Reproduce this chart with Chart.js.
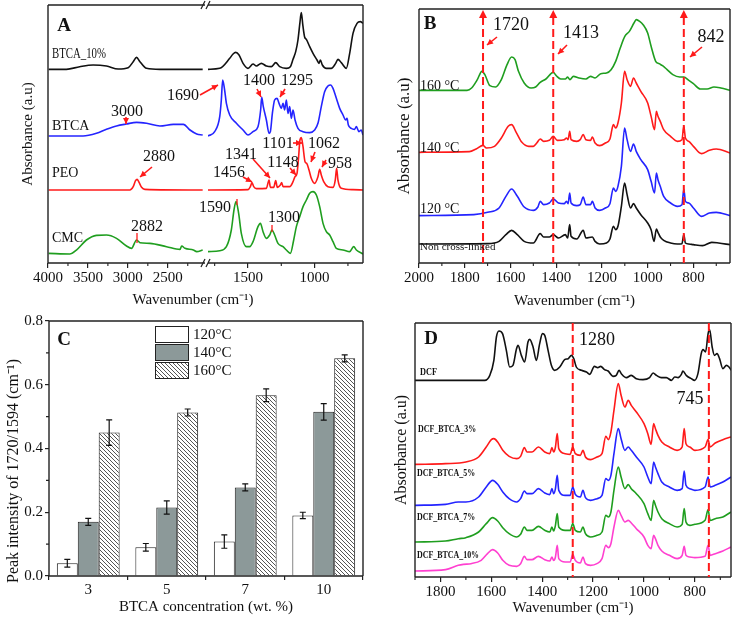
<!DOCTYPE html>
<html>
<head>
<meta charset="utf-8">
<script src="https://cdn.jsdelivr.net/npm/chart.js@4.4.1/dist/chart.umd.min.js"></script>
<style>
  body { margin: 0; background: #fff; width: 734px; height: 617px; position: relative; overflow: hidden; }
  canvas { position: absolute; }
</style>
</head>
<body>
<canvas id="cA1" width="367" height="310" style="left:0;top:0"></canvas>
<canvas id="cA2" width="367" height="310" style="left:0;top:0"></canvas>
<canvas id="cB" width="364" height="310" style="left:370px;top:0"></canvas>
<canvas id="cC" width="367" height="307" style="left:0;top:310px"></canvas>
<canvas id="cD" width="364" height="307" style="left:370px;top:310px"></canvas>
<script>
// ---- panel A (broken axis: 4000-2034 | 1800-637) ----
var A_bt10_L = [[3992,581],[3770,581],[3603,589],[3435,594],[3268,591],[3121,582],[2996,586],[2933,604],[2891,617],[2849,604],[2766,584],[2598,581],[2063,581]];
var A_bt10_R = [[1800,581],[1712,584],[1637,614],[1612,627],[1592,632],[1567,624],[1537,599],[1500,584],[1462,597],[1437,591],[1400,599],[1362,591],[1325,589],[1292,601],[1262,589],[1212,584],[1182,589],[1162,611],[1142,634],[1125,669],[1110,722],[1100,751],[1088,712],[1075,678],[1062,671],[1037,649],[1012,629],[982,609],[967,599],[957,609],[942,594],[912,584],[875,584],[842,599],[825,611],[800,601],[762,584],[737,629],[712,689],[682,719],[657,724],[637,719]];
var A_btca_L = [[3992,381],[3561,381],[3393,389],[3268,401],[3142,411],[3017,417],[2891,422],[2766,419],[2598,411],[2431,416],[2305,416],[2222,399],[2138,387],[2063,384]];
var A_btca_R = [[1800,381],[1750,394],[1712,439],[1700,489],[1690,549],[1677,524],[1662,479],[1637,444],[1587,419],[1537,399],[1500,384],[1462,394],[1425,409],[1405,459],[1397,497],[1385,469],[1362,429],[1342,389],[1332,394],[1317,449],[1300,489],[1282,494],[1267,479],[1250,464],[1237,479],[1225,459],[1212,489],[1200,449],[1187,469],[1175,434],[1162,459],[1147,429],[1125,404],[1087,394],[1037,391],[1000,399],[975,419],[950,469],[925,514],[900,531],[880,534],[862,524],[837,494],[812,464],[787,444],[767,429],[757,434],[747,414],[725,404],[700,401],[687,409],[667,394],[650,399],[637,384]];
var A_peo_L = [[3992,219],[2975,219],[2933,229],[2904,247],[2883,251],[2858,241],[2828,227],[2787,221],[2063,219]];
var A_peo_R = [[1800,219],[1500,220],[1482,229],[1470,241],[1457,229],[1437,223],[1362,224],[1342,249],[1332,227],[1307,227],[1292,247],[1280,227],[1257,234],[1247,241],[1237,229],[1187,229],[1162,244],[1147,259],[1132,269],[1120,319],[1110,369],[1100,376],[1088,352],[1072,304],[1060,299],[1042,279],[1025,254],[1000,239],[975,259],[962,281],[950,264],[932,244],[900,229],[862,227],[845,249],[835,284],[825,249],[800,224],[712,220],[637,219]];
var A_cmc_L = [[3992,29],[3728,27],[3644,39],[3519,69],[3393,83],[3268,84],[3142,74],[3017,51],[2954,44],[2891,69],[2849,61],[2724,59],[2515,49],[2347,41],[2326,51],[2285,44],[2180,39],[2138,34],[2063,39]];
var A_cmc_R = [[1800,34],[1712,37],[1662,49],[1625,99],[1605,159],[1590,184],[1570,149],[1550,89],[1512,49],[1487,49],[1462,64],[1425,109],[1407,119],[1387,94],[1362,74],[1337,84],[1320,99],[1300,84],[1275,59],[1237,49],[1212,39],[1182,29],[1157,69],[1137,109],[1112,139],[1087,169],[1062,189],[1037,209],[1012,214],[987,204],[962,169],[937,119],[912,94],[887,84],[862,64],[837,44],[787,39],[737,34],[707,49],[687,39],[637,27]];
var A_ticksL = [4000, 3500, 3000, 2500];
var A_minorL = [3750, 3250, 2750, 2250];
var A_ticksR = [1500, 1000];
var A_minorR = [1750, 1250, 750];

// ---- panel B ----
var B_160 = [[2000,518],[1790,518],[1770,525],[1745,550],[1725,575],[1712,565],[1690,532],[1665,528],[1640,550],[1615,595],[1595,618],[1580,610],[1565,575],[1540,540],[1510,525],[1490,528],[1470,542],[1445,552],[1413,572],[1400,562],[1380,552],[1360,552],[1350,558],[1340,550],[1325,560],[1300,555],[1270,552],[1250,560],[1230,555],[1205,568],[1180,570],[1160,580],[1140,605],[1120,645],[1100,680],[1080,695],[1060,720],[1050,730],[1035,725],[1020,715],[1000,690],[985,650],[965,605],[950,598],[935,592],[915,580],[890,565],[860,558],[842,558],[820,548],[800,538],[770,522],[740,522],[710,528],[680,525],[640,518]];
var B_140 = [[2000,332],[1780,334],[1750,342],[1720,353],[1705,345],[1670,350],[1640,375],[1610,410],[1595,415],[1575,392],[1550,362],[1520,350],[1500,350],[1485,360],[1470,372],[1455,365],[1430,368],[1413,380],[1395,368],[1365,370],[1355,375],[1348,370],[1341,395],[1335,370],[1310,365],[1295,370],[1282,385],[1270,370],[1250,368],[1242,378],[1230,360],[1210,352],[1185,360],[1165,372],[1150,415],[1140,405],[1130,420],[1115,480],[1101,575],[1090,550],[1075,530],[1062,555],[1050,540],[1030,515],[1000,480],[985,440],[970,400],[962,455],[955,440],[945,425],[930,400],[900,380],[870,365],[850,370],[842,410],[835,375],[820,365],[800,350],[765,328],[730,338],[700,342],[640,330]];
var B_120 = [[2000,142],[1760,145],[1700,152],[1650,165],[1620,200],[1595,222],[1570,200],[1540,168],[1500,158],[1480,168],[1470,185],[1455,175],[1430,180],[1413,192],[1390,180],[1365,178],[1355,185],[1348,178],[1341,210],[1335,180],[1310,172],[1295,175],[1282,198],[1270,175],[1250,175],[1242,185],[1230,165],[1210,158],[1185,165],[1165,178],[1150,225],[1140,215],[1130,230],[1115,290],[1101,405],[1090,370],[1075,335],[1062,357],[1050,335],[1030,310],[1000,280],[985,245],[970,210],[962,270],[955,250],[945,230],[930,200],[900,180],[870,170],[850,175],[842,222],[835,185],[820,180],[800,165],[765,140],[730,150],[700,152],[640,142]];
var B_nc = [[2000,57],[1700,58],[1650,65],[1620,85],[1595,98],[1570,85],[1540,65],[1500,60],[1470,88],[1455,78],[1430,78],[1413,85],[1390,75],[1360,85],[1350,75],[1341,115],[1335,80],[1310,72],[1282,98],[1270,75],[1242,78],[1230,65],[1210,57],[1180,60],[1165,72],[1150,110],[1140,100],[1130,110],[1115,170],[1101,240],[1090,205],[1075,165],[1062,178],[1050,165],[1030,145],[1000,120],[985,100],[972,65],[962,102],[955,92],[945,78],[930,68],[900,60],[870,57],[850,58],[842,85],[835,60],[820,57],[800,55],[760,52],[720,62],[690,60],[640,55]];
var B_ticks = [2000, 1800, 1600, 1400, 1200, 1000, 800];
var B_minor = [1900, 1700, 1500, 1300, 1100, 900, 700];
var B_marks = [1720, 1413, 842];

// ---- panel C ----
var concLabels = ['3', '5', '7', '10'];
var tempLabels = ['120°C', '140°C', '160°C'];
var v120 = [0.040, 0.090, 0.108, 0.190];
var e120 = [0.012, 0.012, 0.021, 0.010];
var v140 = [0.170, 0.215, 0.278, 0.515];
var e140 = [0.011, 0.021, 0.011, 0.026];
var v160 = [0.450, 0.513, 0.567, 0.683];
var e160 = [0.040, 0.011, 0.020, 0.011];
var C_ticks = [0, 0.2, 0.4, 0.6, 0.8];
var C_minor = [0.1, 0.3, 0.5, 0.7];

// ---- panel D ----
var D_dcf = [[1900,590],[1626,590],[1606,605],[1590,650],[1580,720],[1570,738],[1556,730],[1541,680],[1528,630],[1515,635],[1501,685],[1495,695],[1482,665],[1469,645],[1456,705],[1449,713],[1436,690],[1423,650],[1410,700],[1399,730],[1390,725],[1377,680],[1364,635],[1351,620],[1331,630],[1312,652],[1298,655],[1285,665],[1276,655],[1266,630],[1246,620],[1226,615],[1213,608],[1195,632],[1182,628],[1170,632],[1155,622],[1141,618],[1122,602],[1109,605],[1098,620],[1089,610],[1069,598],[1050,605],[1030,595],[1004,592],[978,598],[964,612],[951,605],[932,598],[912,598],[892,590],[879,600],[866,598],[853,608],[847,618],[834,605],[814,595],[801,590],[788,610],[775,670],[768,682],[758,675],[748,730],[742,742],[732,690],[723,665],[713,670],[703,655],[690,625],[676,635],[666,630],[657,620]];
var D_3 = [[1900,338],[1780,340],[1700,345],[1650,360],[1620,390],[1600,412],[1590,415],[1575,405],[1555,380],[1530,362],[1500,355],[1485,362],[1470,388],[1460,375],[1440,375],[1415,390],[1390,375],[1370,370],[1362,388],[1355,375],[1348,390],[1341,430],[1335,385],[1310,370],[1290,368],[1280,390],[1270,370],[1250,365],[1240,380],[1230,360],[1210,352],[1185,360],[1165,370],[1150,422],[1140,412],[1130,435],[1118,500],[1101,580],[1090,545],[1075,510],[1062,530],[1050,515],[1030,495],[1000,460],[985,430],[972,398],[962,460],[955,445],[945,425],[930,405],[900,390],[870,380],[850,390],[842,445],[835,400],[820,390],[800,380],[760,390],[748,412],[740,390],[720,402],[690,412],[658,420]];
var D_5 = [[1900,215],[1780,218],[1730,225],[1700,225],[1650,240],[1620,270],[1595,290],[1575,278],[1555,255],[1530,235],[1500,225],[1485,235],[1470,258],[1460,250],[1440,250],[1415,265],[1390,252],[1370,247],[1362,265],[1355,250],[1348,265],[1341,305],[1335,260],[1310,245],[1290,245],[1280,270],[1270,248],[1250,240],[1240,260],[1230,238],[1210,230],[1185,235],[1165,245],[1150,295],[1140,290],[1130,305],[1118,370],[1101,445],[1090,415],[1075,380],[1062,390],[1050,380],[1030,360],[1000,330],[985,300],[972,280],[962,345],[955,330],[945,310],[930,285],[900,270],[870,260],[850,265],[842,318],[835,275],[820,265],[800,260],[760,270],[748,300],[740,270],[720,275],[690,285],[658,300]];
var D_7 = [[1900,105],[1780,108],[1730,115],[1700,118],[1650,135],[1620,160],[1595,178],[1575,168],[1555,148],[1530,130],[1500,120],[1485,128],[1470,150],[1460,140],[1440,140],[1415,152],[1390,140],[1370,135],[1362,150],[1355,138],[1348,155],[1341,190],[1335,150],[1310,140],[1290,140],[1280,160],[1270,140],[1250,135],[1240,150],[1230,130],[1210,120],[1185,125],[1165,135],[1150,185],[1140,180],[1130,195],[1118,260],[1101,330],[1090,300],[1075,265],[1062,277],[1050,265],[1030,250],[1000,220],[985,190],[972,170],[962,230],[955,215],[945,195],[930,175],[900,160],[870,150],[850,158],[842,205],[835,165],[820,155],[800,158],[760,170],[748,202],[740,170],[720,175],[690,180],[658,195]];
var D_10 = [[1900,18],[1780,22],[1730,35],[1710,38],[1680,40],[1640,50],[1615,70],[1595,82],[1575,72],[1555,50],[1530,35],[1500,32],[1485,40],[1470,62],[1460,52],[1440,52],[1415,62],[1390,52],[1370,48],[1362,60],[1355,50],[1348,60],[1341,95],[1335,55],[1310,45],[1290,45],[1280,68],[1270,50],[1250,42],[1240,60],[1230,40],[1210,35],[1185,40],[1165,55],[1150,95],[1140,88],[1130,100],[1118,150],[1101,200],[1090,185],[1075,165],[1062,170],[1050,162],[1030,145],[1000,120],[985,95],[972,85],[962,125],[955,115],[945,95],[930,78],[900,65],[870,55],[850,65],[842,92],[835,65],[820,60],[800,58],[760,62],[748,95],[740,65],[720,70],[690,78],[658,90]];
var D_ticks = [1800, 1600, 1400, 1200, 1000, 800];
var D_minor = [1900, 1700, 1500, 1300, 1100, 900, 700];
var D_marks = [1280, 745];

var SERIF = "'Liberation Serif', 'Times New Roman', serif";
var INK = '#111';
var RED = '#ff1a1a';
var BLACK = '#111', BLUE = '#2424ff', GREEN = '#1f9e1f', MAGENTA = '#ff40d0';
var WN = 'Wavenumber (cm\u207B\u00B9)';

// box around the plot area, plus short minor ticks
var frame = {
  id: 'frame',
  afterDatasetsDraw: function (chart, args, o) {
    var a = chart.chartArea, ctx = chart.ctx, s = o.sides || 'tlbr';
    ctx.save();
    ctx.strokeStyle = '#222';
    ctx.lineWidth = 1.4;
    ctx.beginPath();
    if (s.indexOf('t') >= 0) { ctx.moveTo(a.left, a.top); ctx.lineTo(a.right, a.top); }
    if (s.indexOf('b') >= 0) { ctx.moveTo(a.left, a.bottom); ctx.lineTo(a.right, a.bottom); }
    if (s.indexOf('l') >= 0) { ctx.moveTo(a.left, a.top); ctx.lineTo(a.left, a.bottom); }
    if (s.indexOf('r') >= 0) { ctx.moveTo(a.right, a.top); ctx.lineTo(a.right, a.bottom); }
    ctx.stroke();
    ctx.lineWidth = 1.1;
    ctx.beginPath();
    (o.minorX || []).forEach(function (v) {
      var px = chart.scales.x.getPixelForValue(v);
      ctx.moveTo(px, a.bottom); ctx.lineTo(px, a.bottom + 3);
    });
    (o.minorY || []).forEach(function (v) {
      var py = chart.scales.y.getPixelForValue(v);
      ctx.moveTo(a.left, py); ctx.lineTo(a.left - 3, py);
    });
    ctx.stroke();
    ctx.restore();
  }
};

function arrowHead(ctx, x1, y1, x2, y2) {
  var ang = Math.atan2(y2 - y1, x2 - x1), L = 6, W = 3;
  ctx.beginPath();
  ctx.moveTo(x2, y2);
  ctx.lineTo(x2 - L * Math.cos(ang) + W * Math.sin(ang), y2 - L * Math.sin(ang) - W * Math.cos(ang));
  ctx.lineTo(x2 - L * Math.cos(ang) - W * Math.sin(ang), y2 - L * Math.sin(ang) + W * Math.cos(ang));
  ctx.closePath();
  ctx.fill();
}

// labels, arrows and dashed marker lines
var notes = {
  id: 'notes',
  afterDraw: function (chart, args, o) {
    var ctx = chart.ctx, a = chart.chartArea, sx = chart.scales.x;
    ctx.save();
    (o.vlines || []).forEach(function (v) {
      var px = sx.getPixelForValue(v);
      ctx.strokeStyle = RED; ctx.lineWidth = 2; ctx.setLineDash([8, 4]);
      ctx.beginPath(); ctx.moveTo(px, a.top + (o.heads ? 8 : 0)); ctx.lineTo(px, a.bottom); ctx.stroke();
      ctx.setLineDash([]);
      if (o.heads) {
        ctx.fillStyle = RED;
        ctx.beginPath(); ctx.moveTo(px, a.top + 1); ctx.lineTo(px - 4, a.top + 9); ctx.lineTo(px + 4, a.top + 9); ctx.closePath(); ctx.fill();
      }
    });
    ctx.strokeStyle = RED; ctx.fillStyle = RED; ctx.lineWidth = 1.6;
    (o.arrows || []).forEach(function (r) {
      ctx.beginPath(); ctx.moveTo(r[0], r[1]); ctx.lineTo(r[2], r[3]); ctx.stroke();
      arrowHead(ctx, r[0], r[1], r[2], r[3]);
    });
    ctx.lineWidth = 1.3;
    (o.ticks || []).forEach(function (r) {
      ctx.beginPath(); ctx.moveTo(r[0], r[1]); ctx.lineTo(r[2], r[3]); ctx.stroke();
    });
    ctx.strokeStyle = '#222'; ctx.lineWidth = 1.2;
    (o.marks || []).forEach(function (r) {
      ctx.beginPath(); ctx.moveTo(r[0], r[1]); ctx.lineTo(r[2], r[3]); ctx.stroke();
    });
    ctx.textBaseline = 'middle';
    (o.texts || []).forEach(function (t) {
      ctx.save();
      ctx.font = t.f;
      ctx.fillStyle = t.c || INK;
      ctx.textAlign = t.al || 'center';
      ctx.translate(t.x, t.y);
      if (t.rot) ctx.rotate(t.rot);
      if (t.sx) ctx.scale(t.sx, 1);
      ctx.fillText(t.t, 0, 0);
      ctx.restore();
    });
    ctx.restore();
  }
};

function curve(points, color) {
  return {
    data: points.map(function (p) { return { x: p[0], y: p[1] }; }),
    borderColor: color, borderWidth: 1.6, pointRadius: 0, fill: false,
    cubicInterpolationMode: 'monotone'
  };
}

function xAxis(c) {
  return {
    type: 'linear', reverse: true, min: c.min, max: c.max,
    afterBuildTicks: function (s) { s.ticks = c.ticks.map(function (v) { return { value: v }; }); },
    afterFit: function (s) { s.height = c.h; },
    ticks: { callback: function (v) { return String(v); }, font: { family: SERIF, size: 15 }, color: INK, padding: 1, maxRotation: 0, autoSkip: false },
    grid: { drawOnChartArea: false, tickLength: 5, color: '#222', lineWidth: 1.2 },
    border: { display: false },
    title: c.title ? { display: true, text: WN, font: { family: SERIF, size: 15 }, color: INK, padding: { top: 0, bottom: c.tpad } } : { display: false }
  };
}

function yAxis(c) {
  if (!c.title) return { display: false, min: 0, max: c.max };
  return {
    min: 0, max: c.max,
    ticks: { display: false }, grid: { display: false }, border: { display: false },
    afterFit: function (s) { s.width = c.w; },
    title: { display: true, text: 'Absorbance (a.u)', font: { family: SERIF, size: c.fs }, color: INK, padding: { top: c.tpad, bottom: 0 } }
  };
}

function base(pad, plugins, scales) {
  return {
    responsive: false, animation: false, events: [],
    layout: { padding: pad },
    plugins: Object.assign({ legend: { display: false }, tooltip: { enabled: false } }, plugins),
    scales: scales
  };
}

var numF = '16px ' + SERIF;
var labF = '14px ' + SERIF;
var bigF = 'bold 19px ' + SERIF;

// A, left part
new Chart(document.getElementById('cA1'), {
  type: 'line',
  data: { datasets: [curve(A_bt10_L, BLACK), curve(A_btca_L, BLUE), curve(A_peo_L, RED), curve(A_cmc_L, GREEN)] },
  options: base({ left: 0, top: 5, right: 162, bottom: 0 },
    { frame: { sides: 'tlb', minorX: A_minorL } },
    { x: xAxis({ min: 2034, max: 4000, ticks: A_ticksL, h: 47 }), y: yAxis({ max: 774, title: true, w: 48, tpad: 19, fs: 15 }) }),
  plugins: [frame]
});

// A, right part with all the panel A notes
new Chart(document.getElementById('cA2'), {
  type: 'line',
  data: { datasets: [curve(A_bt10_R, BLACK), curve(A_btca_R, BLUE), curve(A_peo_R, RED), curve(A_cmc_R, GREEN)] },
  options: base({ left: 208, top: 5, right: 4, bottom: 0 },
    {
      frame: { sides: 'trb', minorX: A_minorR },
      notes: {
        arrows: [[126, 117, 126, 124], [200, 95, 218, 85], [257, 89, 261, 97], [285, 89, 280, 97], [293, 143, 302, 143],
                 [315, 152, 311, 162], [326, 160, 322, 167], [253, 159, 270, 178], [290, 168, 296, 175], [243, 177, 252, 182], [152, 167, 140, 177]],
        ticks: [[137, 233, 137, 243], [237, 199, 237, 205], [272, 225, 272, 232]],
        marks: [[201, 9, 205, 1], [206, 9, 210, 1], [201, 267, 205, 259], [206, 267, 210, 259]],
        texts: [
          { t: 'A', x: 64, y: 26, f: bigF },
          { t: 'BTCA_10%', x: 52, y: 54, f: '15px ' + SERIF, al: 'left', sx: 0.72 },
          { t: 'BTCA', x: 52, y: 126, f: labF, al: 'left' },
          { t: 'PEO', x: 52, y: 173, f: labF, al: 'left' },
          { t: 'CMC', x: 52, y: 238, f: labF, al: 'left' },
          { t: '3000', x: 127, y: 112, f: numF }, { t: '1690', x: 183, y: 96, f: numF },
          { t: '1400', x: 259, y: 81, f: numF }, { t: '1295', x: 297, y: 81, f: numF },
          { t: '1101', x: 278, y: 144, f: numF }, { t: '1062', x: 324, y: 144, f: numF },
          { t: '958', x: 340, y: 164, f: numF }, { t: '1341', x: 241, y: 155, f: numF },
          { t: '1148', x: 283, y: 163, f: numF }, { t: '1456', x: 229, y: 173, f: numF },
          { t: '2880', x: 159, y: 157, f: numF }, { t: '2882', x: 147, y: 227, f: numF },
          { t: '1590', x: 215, y: 208, f: numF }, { t: '1300', x: 284, y: 218, f: numF },
          { t: WN, x: 193, y: 300, f: '15px ' + SERIF }
        ]
      }
    },
    { x: xAxis({ min: 637, max: 1800, ticks: A_ticksR, h: 47 }), y: yAxis({ max: 774 }) }),
  plugins: [frame, notes]
});

// B
new Chart(document.getElementById('cB'), {
  type: 'line',
  data: { datasets: [curve(B_160, GREEN), curve(B_140, RED), curve(B_120, BLUE), curve(B_nc, BLACK)] },
  options: base({ left: 0, top: 9, right: 4, bottom: 0 },
    {
      frame: { sides: 'tlbr', minorX: B_minor },
      notes: {
        vlines: B_marks, heads: true,
        arrows: [[127, 37, 117, 45], [197, 45, 188, 54], [332, 47, 320, 57]],
        texts: [
          { t: 'B', x: 60, y: 24, f: bigF },
          { t: '1720', x: 141, y: 25, f: '18px ' + SERIF }, { t: '1413', x: 211, y: 33, f: '18px ' + SERIF },
          { t: '842', x: 341, y: 37, f: '18px ' + SERIF },
          { t: '160 °C', x: 50, y: 86, f: labF, al: 'left' },
          { t: '140 °C', x: 50, y: 148, f: labF, al: 'left' },
          { t: '120 °C', x: 50, y: 209, f: labF, al: 'left' },
          { t: 'Non cross-linked', x: 50, y: 247, f: '11px ' + SERIF, al: 'left' }
        ]
      }
    },
    { x: xAxis({ min: 640, max: 2000, ticks: B_ticks, h: 47, title: true, tpad: 0 }), y: yAxis({ max: 762, title: true, w: 49, tpad: 24, fs: 17 }) }),
  plugins: [frame, notes]
});

// C
function hatch() {
  var c = document.createElement('canvas');
  c.width = 4; c.height = 4;
  var g = c.getContext('2d');
  g.fillStyle = '#fff'; g.fillRect(0, 0, 4, 4);
  g.strokeStyle = '#555'; g.lineWidth = 1;
  g.beginPath();
  g.moveTo(-1, -1); g.lineTo(5, 5);
  g.moveTo(-1, 3); g.lineTo(1, 5);
  g.moveTo(3, -1); g.lineTo(5, 1);
  g.stroke();
  return g.createPattern(c, 'repeat');
}

var errbars = {
  id: 'errbars',
  afterDatasetsDraw: function (chart) {
    var ctx = chart.ctx, y = chart.scales.y;
    ctx.save();
    ctx.strokeStyle = '#111'; ctx.lineWidth = 1.2;
    chart.data.datasets.forEach(function (ds, i) {
      chart.getDatasetMeta(i).data.forEach(function (bar, j) {
        var t = y.getPixelForValue(ds.data[j] + ds.errors[j]);
        var b = y.getPixelForValue(ds.data[j] - ds.errors[j]);
        ctx.beginPath();
        ctx.moveTo(bar.x, t); ctx.lineTo(bar.x, b);
        ctx.moveTo(bar.x - 3, t); ctx.lineTo(bar.x + 3, t);
        ctx.moveTo(bar.x - 3, b); ctx.lineTo(bar.x + 3, b);
        ctx.stroke();
      });
    });
    ctx.restore();
  }
};

var boxLegend = {
  id: 'boxLegend',
  afterDraw: function (chart, args, o) {
    var ctx = chart.ctx;
    ctx.save();
    chart.data.datasets.forEach(function (ds, i) {
      var y = o.y + i * o.step;
      ctx.fillStyle = ds.backgroundColor; ctx.fillRect(o.x, y, o.w, o.h);
      ctx.strokeStyle = '#222'; ctx.lineWidth = 1; ctx.strokeRect(o.x + 0.5, y + 0.5, o.w, o.h);
      ctx.fillStyle = INK; ctx.font = o.font; ctx.textBaseline = 'middle'; ctx.textAlign = 'left';
      ctx.fillText(ds.label, o.x + o.w + 5, y + o.h / 2 + 1);
    });
    ctx.restore();
  }
};

new Chart(document.getElementById('cC'), {
  type: 'bar',
  data: {
    labels: concLabels,
    datasets: [
      { label: tempLabels[0], data: v120, errors: e120, backgroundColor: '#ffffff' },
      { label: tempLabels[1], data: v140, errors: e140, backgroundColor: '#8c9999' },
      { label: tempLabels[2], data: v160, errors: e160, backgroundColor: hatch() }
    ].map(function (d) { d.borderColor = '#222'; d.borderWidth = 1; d.barPercentage = 1; d.categoryPercentage = 0.8; return d; })
  },
  options: base({ left: 0, top: 10, right: 4, bottom: 0 },
    {
      frame: { sides: 'tlbr', minorY: C_minor },
      boxLegend: { x: 155, y: 16, w: 33, h: 16, step: 18, font: '15px ' + SERIF },
      notes: { texts: [
        { t: 'C', x: 64, y: 30, f: bigF },
        { t: 'Peak intensity of 1720/1594 (cm\u207B\u00B9)', x: 14, y: 161, f: '16px ' + SERIF, rot: -Math.PI / 2 }
      ] }
    },
    {
      x: {
        type: 'category', offset: true,
        afterFit: function (s) { s.height = 41; },
        ticks: { font: { family: SERIF, size: 15 }, color: INK, padding: 1 },
        grid: { offset: true, drawOnChartArea: false, tickLength: 4, color: '#222', lineWidth: 1.2 },
        border: { display: false },
        title: { display: true, text: 'BTCA concentration (wt. %)', font: { family: SERIF, size: 15 }, color: INK, padding: { top: 0, bottom: 1 } }
      },
      y: {
        min: 0, max: 0.8,
        afterBuildTicks: function (s) { s.ticks = C_ticks.map(function (v) { return { value: v }; }); },
        afterFit: function (s) { s.width = 49; },
        ticks: { callback: function (v) { return v.toFixed(1); }, font: { family: SERIF, size: 15 }, color: INK, padding: 2 },
        grid: { drawOnChartArea: false, tickLength: 4, color: '#222', lineWidth: 1.2 },
        border: { display: false }
      }
    }),
  plugins: [frame, errbars, boxLegend, notes]
});

// D
var dcfF = 'bold 11px ' + SERIF;
new Chart(document.getElementById('cD'), {
  type: 'line',
  data: { datasets: [curve(D_dcf, BLACK), curve(D_3, RED), curve(D_5, BLUE), curve(D_7, GREEN), curve(D_10, MAGENTA)] },
  options: base({ left: 0, top: 13, right: 3, bottom: 0 },
    {
      frame: { sides: 'tlbr', minorX: D_minor },
      notes: {
        vlines: D_marks,
        texts: [
          { t: 'D', x: 61, y: 29, f: bigF },
          { t: '1280', x: 227, y: 30, f: '18px ' + SERIF },
          { t: '745', x: 320, y: 89, f: '18px ' + SERIF },
          { t: 'DCF', x: 50, y: 62, f: dcfF, al: 'left', sx: 0.75 },
          { t: 'DCF_BTCA_3%', x: 48, y: 119, f: dcfF, al: 'left', sx: 0.72 },
          { t: 'DCF_BTCA_5%', x: 47, y: 163, f: dcfF, al: 'left', sx: 0.72 },
          { t: 'DCF_BTCA_7%', x: 47, y: 207, f: dcfF, al: 'left', sx: 0.72 },
          { t: 'DCF_BTCA_10%', x: 47, y: 245, f: dcfF, al: 'left', sx: 0.72 }
        ]
      }
    },
    { x: xAxis({ min: 658, max: 1900, ticks: D_ticks, h: 40, title: true, tpad: 0 }), y: yAxis({ max: 762, title: true, w: 45, tpad: 22, fs: 16 }) }),
  plugins: [frame, notes]
});
</script>
</body>
</html>
